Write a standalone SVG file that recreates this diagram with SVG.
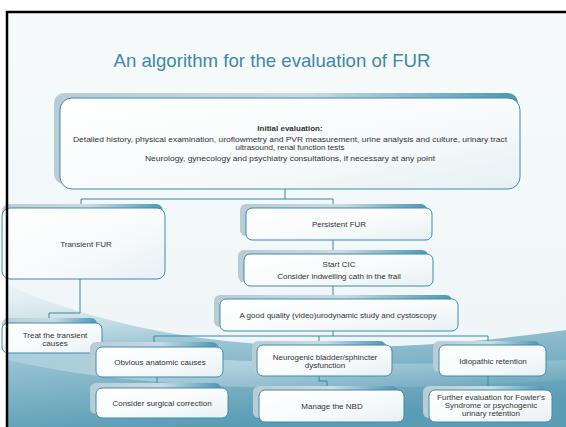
<svg xmlns="http://www.w3.org/2000/svg" width="566" height="427" viewBox="0 0 566 427">
<defs>
<linearGradient id="bg" x1="0" y1="0" x2="0" y2="1">
<stop offset="0" stop-color="#f6fafb"/><stop offset="1" stop-color="#eef5f7"/>
</linearGradient>
<linearGradient id="wave" x1="0" y1="0" x2="0.3" y2="1">
<stop offset="0" stop-color="#d6e8ee" stop-opacity="0.2"/><stop offset="0.45" stop-color="#9cc6d4"/><stop offset="1" stop-color="#5c9db6"/>
</linearGradient>
<linearGradient id="wave2" x1="0" y1="0" x2="1" y2="1">
<stop offset="0" stop-color="#ffffff" stop-opacity="0"/><stop offset="0.5" stop-color="#ffffff" stop-opacity="0.35"/><stop offset="1" stop-color="#ffffff" stop-opacity="0"/>
</linearGradient>
<linearGradient id="sh" x1="0" y1="0" x2="1" y2="0">
<stop offset="0" stop-color="#b9cbd4"/><stop offset="0.55" stop-color="#c9dae2"/><stop offset="1" stop-color="#4c97b6"/>
</linearGradient>
<linearGradient id="box" x1="0" y1="0" x2="1" y2="1">
<stop offset="0" stop-color="#ffffff"/><stop offset="0.6" stop-color="#f7fafb"/><stop offset="1" stop-color="#e6f0f4"/>
</linearGradient>
<style>
.sh{fill:url(#sh)}
.bx{fill:url(#box);stroke:#3f8cab;stroke-width:1}
.t{font-family:"Liberation Sans",Arial,sans-serif;font-size:8px;fill:#333;text-anchor:middle}
.b{font-weight:bold}
.c{fill:none;stroke:#3a86a4;stroke-width:1}
.title{font-family:"Liberation Sans",Arial,sans-serif;font-size:19px;fill:#3d89a8;text-anchor:middle}
</style>
</defs>
<rect width="566" height="427" fill="#ffffff"/>
<rect x="7" y="12" width="559" height="415" fill="url(#bg)"/>
<path d="M7,285 C90,320 250,375 566,330 L566,427 L7,427 Z" fill="url(#wave)"/>
<path d="M7,330 C120,360 300,370 566,360 L566,380 C320,395 140,390 7,360 Z" fill="url(#wave2)"/>
<text class="title" x="272" y="67" textLength="317" lengthAdjust="spacingAndGlyphs">An algorithm for the evaluation of FUR</text>

<g id="connectors">
<path class="c" d="M285,189 V199 M81,199 H333 M81,199 V204 M333,199 V204"/>
<path class="c" d="M333,240 V250"/>
<path class="c" d="M333,286 V295"/>
<path class="c" d="M80,279 V313 H49 V318"/>
<path class="c" d="M333,331 V336 M154,336 H488 M154,336 V342 M319,336 V341 M488,336 V341"/>
<path class="c" d="M157,377 V383"/>
<path class="c" d="M319,376 V381 H327 V386"/>
<path class="c" d="M488,376 V386"/>
</g>

<g id="n-initial">
<rect class="sh" x="54" y="93" width="464" height="91" rx="10"/>
<rect class="bx" x="60" y="98" width="460" height="91" rx="12"/>
<text class="t b" x="290" y="131">Initial evaluation:</text>
<text class="t" x="290" y="142" textLength="434" lengthAdjust="spacingAndGlyphs">Detailed history, physical examination, uroflowmetry and PVR measurement, urine analysis and culture, urinary tract</text>
<text class="t" x="290" y="150">ultrasound, renal function tests</text>
<text class="t" x="290" y="161" textLength="290" lengthAdjust="spacingAndGlyphs">Neurology, gynecology and psychiatry consultations, if  necessary at any point</text>
</g>

<g id="n-transient">
<rect class="sh" x="2" y="204" width="161" height="70" rx="7"/>
<rect class="bx" x="2" y="208" width="163" height="71" rx="8"/>
<text class="t" x="86" y="247">Transient FUR</text>
</g>

<g id="n-treat">
<rect class="sh" x="2" y="318" width="95" height="30" rx="6"/>
<rect class="bx" x="2" y="323" width="100" height="30" rx="6"/>
<text class="t" x="55" y="338">Treat the transient</text>
<text class="t" x="55" y="346">causes</text>
</g>

<g id="n-persistent">
<rect class="sh" x="240" y="204" width="187" height="32" rx="6"/>
<rect class="bx" x="246" y="208" width="186" height="32" rx="6"/>
<text class="t" x="339" y="227">Persistent FUR</text>
</g>

<g id="n-cic">
<rect class="sh" x="238" y="250" width="190" height="32" rx="6"/>
<rect class="bx" x="244" y="254" width="189" height="32" rx="6"/>
<text class="t" x="339" y="267">Start CIC</text>
<text class="t" x="339" y="279">Consider indwelling cath in the frail</text>
</g>

<g id="n-urodynamic">
<rect class="sh" x="214" y="295" width="238" height="32" rx="6"/>
<rect class="bx" x="220" y="299" width="238" height="32" rx="6"/>
<text class="t" x="338" y="318">A good quality (video)urodynamic study and cystoscopy</text>
</g>

<g id="n-anatomic">
<rect class="sh" x="90" y="342" width="128" height="31" rx="6"/>
<rect class="bx" x="96" y="347" width="127" height="30" rx="6"/>
<text class="t" x="160" y="365">Obvious anatomic  causes</text>
</g>

<g id="n-surgical">
<rect class="sh" x="90" y="383" width="131" height="31" rx="6"/>
<rect class="bx" x="96" y="388" width="132" height="30" rx="6"/>
<text class="t" x="162" y="406">Consider surgical correction</text>
</g>

<g id="n-neurogenic">
<rect class="sh" x="252" y="341" width="134" height="31" rx="6"/>
<rect class="bx" x="257" y="345" width="135" height="31" rx="6"/>
<text class="t" x="325" y="360">Neurogenic bladder/sphincter</text>
<text class="t" x="325" y="368">dysfunction</text>
</g>

<g id="n-nbd">
<rect class="sh" x="253" y="386" width="145" height="32" rx="6"/>
<rect class="bx" x="259" y="390" width="145" height="32" rx="6"/>
<text class="t" x="332" y="409">Manage the NBD</text>
</g>

<g id="n-idiopathic">
<rect class="sh" x="433" y="341" width="107" height="31" rx="6"/>
<rect class="bx" x="439" y="345" width="107" height="31" rx="6"/>
<text class="t" x="493" y="364">Idiopathic retention</text>
</g>

<g id="n-further">
<rect class="sh" x="423" y="386" width="123" height="32" rx="6"/>
<rect class="bx" x="429" y="390" width="123" height="32" rx="6"/>
<text class="t" x="491" y="400">Further evaluation for Fowler's</text>
<text class="t" x="491" y="408">Syndrome or psychogenic</text>
<text class="t" x="491" y="416">urinary retention</text>
</g>

<path d="M566,12 H7 V427" fill="none" stroke="#000" stroke-width="2.5"/>
</svg>
